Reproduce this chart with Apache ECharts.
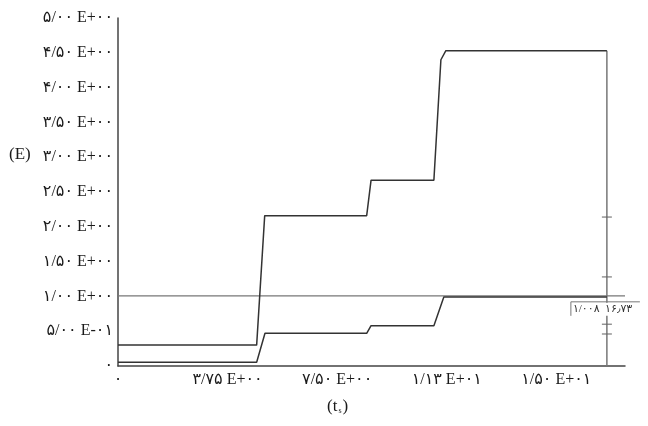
<!DOCTYPE html>
<html>
<head>
<meta charset="utf-8">
<script src="https://cdn.jsdelivr.net/npm/echarts@6/dist/echarts.min.js"></script>
<style>html,body{margin:0;padding:0;background:#fff}#c{width:648px;height:426px}</style>
</head>
<body>
<div id="c"></div>
<script>
// Tick values and labels
const xTickValues = [0, 3.75, 7.5, 11.25, 15];
const xTickLabels = ['۰', '۳/۷۵ E+۰۰', '۷/۵۰ E+۰۰', '۱/۱۳ E+۰۱', '۱/۵۰ E+۰۱'];
const yTickValues = [0, 0.5, 1, 1.5, 2, 2.5, 3, 3.5, 4, 4.5, 5];
const yTickLabels = ['۰', '۵/۰۰ E-۰۱', '۱/۰۰ E+۰۰', '۱/۵۰ E+۰۰', '۲/۰۰ E+۰۰', '۲/۵۰ E+۰۰', '۳/۰۰ E+۰۰', '۳/۵۰ E+۰۰', '۴/۰۰ E+۰۰', '۴/۵۰ E+۰۰', '۵/۰۰ E+۰۰'];

// Upper step curve (x, y)
const upperX = [0, 4.745, 5.02, 8.51, 8.66, 10.81, 11.05, 11.22, 16.73];
const upperY = [0.30, 0.30, 2.16, 2.16, 2.67, 2.67, 4.40, 4.53, 4.53];
// Lower step curve (x, y)
const lowerX = [0, 4.745, 5.03, 8.51, 8.66, 10.81, 11.15, 16.73];
const lowerY = [0.053, 0.053, 0.47, 0.47, 0.58, 0.58, 0.99, 0.99];

// Reference lines
const refY = 1.008;
const refX = 16.73;
const refLabel = '۱/۰۰۸  ۱۶٫۷۳';
// Tick marks on the vertical reference line
const markTicksY = [2.14, 1.28, 0.60, 0.46];

const xMax = 17.35;
const yMax = 5;

const zip = (xs, ys) => xs.map((x, i) => [x, ys[i]]);
const font = "'Liberation Serif', 'DejaVu Sans', serif";

const chart = echarts.init(document.getElementById('c'), null, {renderer: 'canvas'});
const option = {
  animation: false,
  backgroundColor: '#fff',
  grid: {left: 118, right: 23, top: 18, bottom: 60, containLabel: false},
  xAxis: {
    type: 'value', min: 0, max: xMax,
    axisLine: {show: true, lineStyle: {color: '#444', width: 1.5}},
    axisTick: {show: false},
    splitLine: {show: false},
    axisLabel: {
      customValues: xTickValues,
      formatter: v => { const i = xTickValues.findIndex(t => Math.abs(t - v) < 1e-6); return i >= 0 ? xTickLabels[i] : ''; },
      color: '#1a1a1a', fontFamily: font, fontSize: 16, margin: 6
    }
  },
  yAxis: {
    type: 'value', min: 0, max: yMax, interval: 0.5,
    axisLine: {show: true, lineStyle: {color: '#444', width: 1.5}},
    axisTick: {show: false},
    splitLine: {show: false},
    axisLabel: {
      formatter: v => { const i = yTickValues.findIndex(t => Math.abs(t - v) < 1e-6); return i >= 0 ? yTickLabels[i] : ''; },
      color: '#1a1a1a', fontFamily: font, fontSize: 16, margin: 5
    }
  },
  series: [
    {
      type: 'line', data: zip(upperX, upperY), symbol: 'none', smooth: false,
      lineStyle: {color: '#333', width: 1.5}, z: 3
    },
    {
      type: 'line', data: zip(lowerX, lowerY), symbol: 'none',
      lineStyle: {color: '#333', width: 1.5}, z: 3
    },
    {
      type: 'line', data: [[0, refY], [xMax, refY]], symbol: 'none',
      lineStyle: {color: '#777', width: 1.2}, z: 2
    },
    {
      type: 'line', data: [[refX, 0], [refX, upperY[upperY.length - 1]]], symbol: 'none',
      lineStyle: {color: '#777', width: 1.5}, z: 2
    },
    {
      type: 'scatter', data: markTicksY.map(y => [refX, y]), symbol: 'rect', symbolSize: [10, 1.3],
      itemStyle: {color: '#666'}, z: 4
    }
  ]
};
chart.setOption(option);

const p = chart.convertToPixel({xAxisIndex: 0, yAxisIndex: 0}, [refX, refY]);
chart.setOption({
  graphic: [
    {type: 'rect', z: 100, shape: {x: p[0] - 35, y: p[1] + 7, width: 70, height: 13}, style: {fill: '#fff'}},
    {type: 'polyline', z: 101, shape: {points: [[p[0] - 36, p[1] + 20], [p[0] - 36, p[1] + 6], [p[0] + 33, p[1] + 6]]},
     style: {stroke: '#777', lineWidth: 1, fill: null}},
    {type: 'text', z: 102, x: p[0] - 34, y: p[1] + 8,
     style: {text: refLabel, fontFamily: font, fontSize: 11, fill: '#333'}},
    {type: 'text', x: 9, y: 146, style: {text: '(E)', fontFamily: font, fontSize: 17, fill: '#1a1a1a'}},
    {type: 'text', x: 327, y: 398, style: {text: '(t{s|s})', rich: {s: {fontSize: 8, verticalAlign: 'bottom', padding: [9, 1, 0, 1], fontFamily: font}}, fontFamily: font, fontSize: 17, fill: '#1a1a1a'}}
  ]
});
</script>
</body>
</html>
